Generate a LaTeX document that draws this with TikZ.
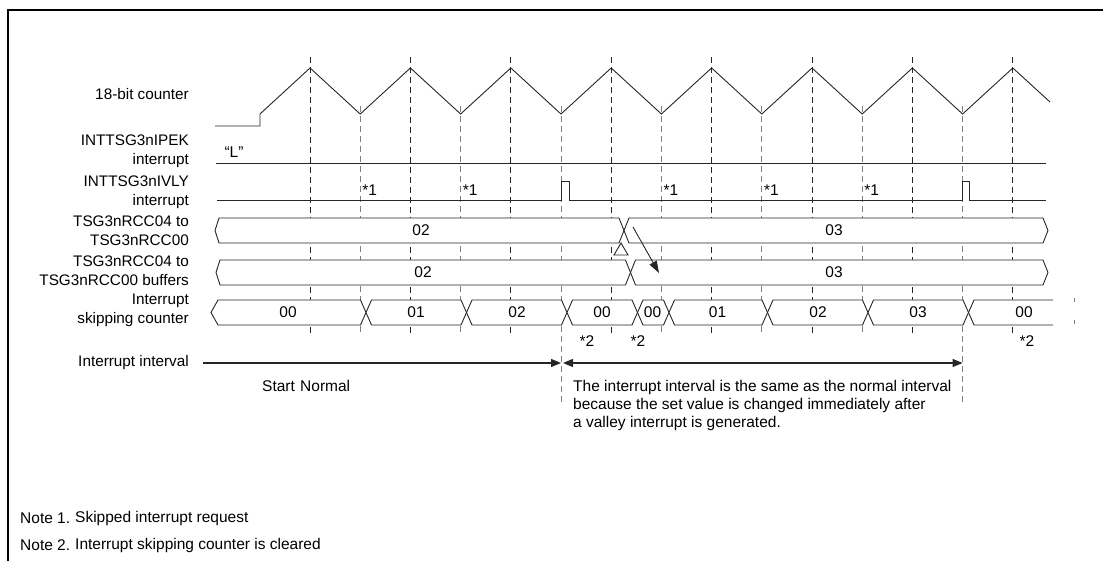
\documentclass[tikz,border=0pt]{standalone}
\usepackage{fontspec}
\setmainfont{Liberation Sans}
\usetikzlibrary{arrows.meta}
\begin{document}
\begin{tikzpicture}[x=1pt,y=-1pt,
  lbl/.style={font=\fontsize{15.3}{19}\selectfont, align=right, anchor=east, inner sep=0pt},
  txt/.style={font=\fontsize{15.5}{18}\selectfont, inner sep=0pt},
  sig/.style={line width=0.9pt, black!85, line join=miter},
  pkline/.style={dash pattern=on 6pt off 4pt, line width=0.9pt, black!85},
  vlline/.style={dash pattern=on 6pt off 4pt, line width=0.9pt, black!50},
  bus/.style={line width=0.9pt, draw=black!85, fill=white, line join=miter},
  tip/.style={-{Triangle[length=10pt,width=8pt]}},
]
\useasboundingbox (0,0) rectangle (1103,561);
% frame
\draw[line width=2.5pt] (1103,10) -- (8,10) -- (8,561);

% dashed time markers
\foreach \k in {0,...,7} \draw[pkline] ({310+100.4*\k},57) -- ({310+100.4*\k},333);
\foreach \k in {0,1,3,4,5} \draw[vlline] ({360.2+100.4*\k},106) -- ({360.2+100.4*\k},333);
\foreach \k in {2,6} \draw[vlline] ({360.2+100.4*\k},106) -- ({360.2+100.4*\k},402);
\draw[dash pattern=on 4pt off 18pt, line width=0.9pt, black!50] (1074,298) -- (1074,327);

% labels
\node[lbl] (l1) at (189,94) {18-bit counter};
\node[lbl] (l2) at (189,151) {INTTSG3nIPEK\\interrupt};
\node[lbl] (l3) at (189,192) {INTTSG3nIVLY\\interrupt};
\node[lbl] (l4) at (189,230.5) {TSG3nRCC04 to\\TSG3nRCC00};
\node[lbl] (l5) at (189,271) {TSG3nRCC04 to\ \\TSG3nRCC00 buffers};
\node[lbl] (l6) at (189,310) {Interrupt\\skipping counter};
\node[lbl] (l7) at (189,363) {Interrupt interval};

% 18-bit counter
\draw[sig] (215,126) -- (260,126) -- (260,114) -- (310,68) -- (360.2,114) -- (410.4,68) -- (460.6,114) -- (510.8,68) -- (561,114) -- (611.2,68) -- (661.4,114) -- (711.6,68) -- (761.8,114) -- (812,68) -- (862.2,114) -- (912.4,68) -- (962.6,114) -- (1012.8,68) -- (1050,102);

% IPEK
\draw[sig] (216,163) -- (1046,163);
\node[txt] (lo) at (234,152) {“L”};
% IVLY
\draw[sig] (217,200) -- (561,200) -- (561,181) -- (569,181) -- (569,200) -- (962.6,200) -- (962.6,181) -- (969,181) -- (969,200) -- (1046,200);
\foreach \v/\n in {360.2/a,460.6/b,661.4/c,761.8/d,862.2/e}
  \node[txt, anchor=west] (s1\n) at (\v+2,190) {*1};

% TSG3nRCC04-00
\draw[bus] (619,218) -- (219,218) -- (215,230.5) -- (219,243) -- (619,243) -- (624,230.5) -- cycle;
\draw[bus] (629,218) -- (1043,218) -- (1048,230.5) -- (1043,243) -- (629,243) -- (624,230.5) -- cycle;
\node[txt] (r4a) at (421,230.5) {02};
\node[txt] (r4b) at (834,230.5) {03};
\draw[line width=0.9pt, black!85, fill=white] (621,243) -- (628,255) -- (614,255) -- cycle;

% buffers
\draw[bus] (625.5,260) -- (220,260) -- (216,272.5) -- (220,285) -- (625.5,285) -- (630.5,272.5) -- cycle;
\draw[bus] (635.5,260) -- (1043,260) -- (1048,272.5) -- (1043,285) -- (635.5,285) -- (630.5,272.5) -- cycle;
\node[txt] (r5a) at (423,272.5) {02};
\node[txt] (r5b) at (834,272.5) {03};

% transfer arrow
\coordinate (arS) at (633,227);
\coordinate (arE) at (659,273);
\draw[line width=0.9pt, black!85, -{Triangle[length=12pt,width=8pt]}] (arS) -- (arE);

% skipping counter
\draw[bus] (360.5,300) -- (218,300) -- (211,312.5) -- (218,325) -- (360.5,325) -- (366,312.5) -- cycle;
\foreach \a/\b in {366/466.5, 466.5/567, 567/637.5, 637.5/669, 669/767.5, 767.5/868, 868/968.5}
  \draw[bus] (\a+5.5,300) -- (\b-5.5,300) -- (\b,312.5) -- (\b-5.5,325) -- (\a+5.5,325) -- (\a,312.5) -- cycle;
\draw[bus] (1053,300) -- (974,300) -- (968.5,312.5) -- (974,325) -- (1053,325);
\foreach \x/\t/\n in {288/00/a, 416/01/b, 517/02/c, 602/00/d, 652.5/00/e, 717.5/01/f, 818/02/g, 918/03/h, 1024/00/i}
  \node[txt] (r6\n) at (\x,312.5) {\t};
\foreach \x/\n in {587/a, 638/b, 1027/c}
  \node[txt] (s2\n) at (\x,341) {*2};

% interrupt interval
\coordinate (iv0) at (203,363);
\coordinate (iv1) at (561,363);
\coordinate (iv1b) at (563,363);
\coordinate (iv2) at (962.6,363);
\draw[line width=1.2pt, black!85, tip] (iv0) -- (iv1);
\draw[line width=1.2pt, black!85, {Triangle[length=10pt,width=8pt]}-{Triangle[length=10pt,width=8pt]}] (iv1b) -- (iv2);

\node[txt, anchor=west] (st) at (262,386) {Start};
\node[txt, anchor=west] (nm) at (300,386) {Normal};
\node[txt, anchor=north west, align=left] (expl) at (573,380)
  {The interrupt interval is the same as the normal interval\\because the set value is changed immediately after\\a valley interrupt is generated.};

% notes
\node[txt, anchor=west] (n1) at (20,518) {Note 1.};
\node[txt, anchor=west] (n1t) at (75,518) {Skipped interrupt request};
\node[txt, anchor=west] (n2) at (20,545) {Note 2.};
\node[txt, anchor=west] (n2t) at (75,545) {Interrupt skipping counter is cleared};
\end{tikzpicture}
\end{document}
